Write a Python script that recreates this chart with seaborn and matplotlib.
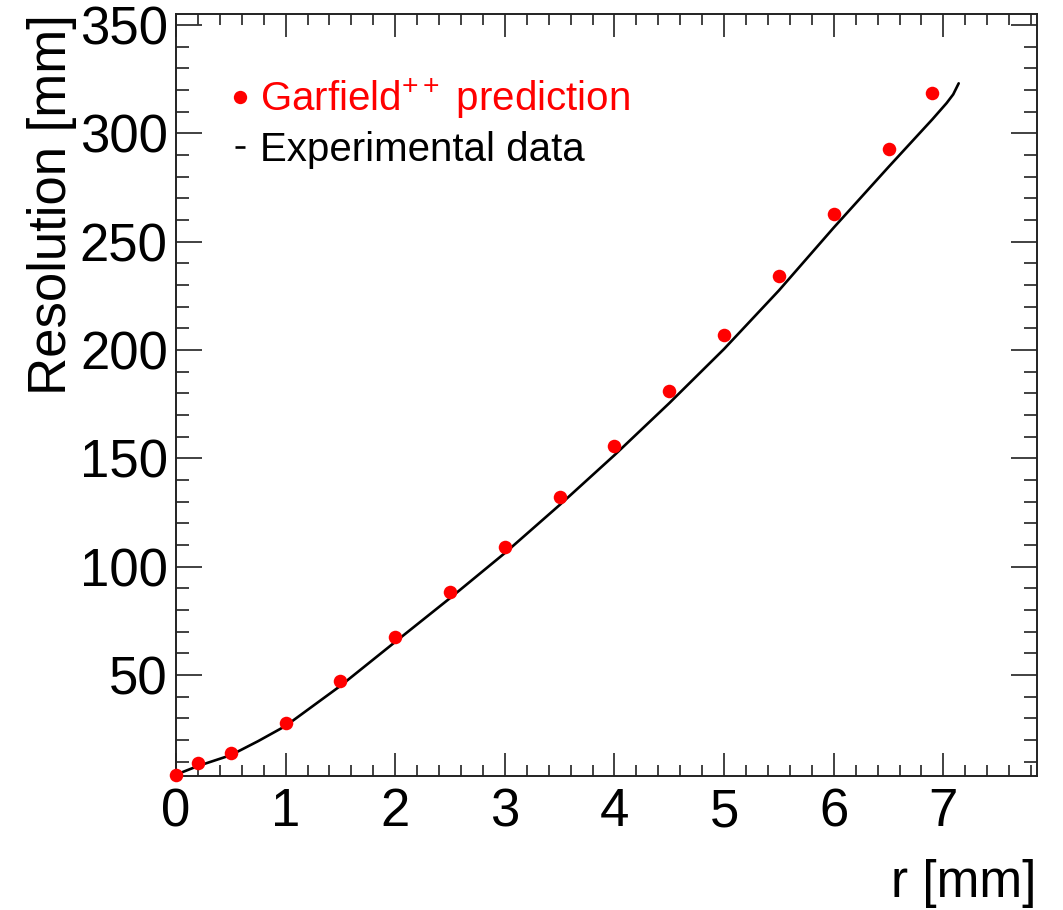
import matplotlib
matplotlib.use("Agg")
import matplotlib.pyplot as plt
from matplotlib.lines import Line2D
from matplotlib.ticker import AutoMinorLocator
import pandas as pd
import seaborn as sns

# Garfield++ simulated resolution at each radius
sim_r = [0, 0.2, 0.5, 1, 1.5, 2, 2.5, 3, 3.5, 4, 4.5, 5, 5.5, 6, 6.5, 6.9]
sim_res = [3.9, 9.6, 13.9, 27.8, 47.4, 67.7, 88.2, 109.2, 132.1, 155.8,
           181.1, 207.1, 234.2, 262.8, 292.9, 318.5]

# measured resolution curve
exp_r = [0, 0.2, 0.5, 0.75, 1, 1.5, 2, 2.5, 3, 3.5, 4, 4.5, 5, 5.5, 6,
         6.5, 6.9, 7.03, 7.09, 7.14]
exp_res = [4.0, 8.0, 13.0, 19.5, 26.5, 45.0, 65.3, 85.5, 106.3, 128.5,
           151.5, 175.5, 200.5, 227.5, 256.5, 284.5, 306.5, 314.0, 318.0,
           323.1]

x_ticks = [0, 1, 2, 3, 4, 5, 6, 7]
y_ticks = [50, 100, 150, 200, 250, 300, 350]

sns.set_style("ticks")
plt.rcParams["font.family"] = ["Liberation Sans", "DejaVu Sans"]
plt.rcParams["mathtext.fontset"] = "custom"
plt.rcParams["mathtext.rm"] = "Liberation Sans"
plt.rcParams["mathtext.it"] = "Liberation Sans:italic"
plt.rcParams["mathtext.bf"] = "Liberation Sans:bold"
plt.rcParams["text.color"] = "black"
plt.rcParams["axes.labelcolor"] = "black"

sim = pd.DataFrame({"r": sim_r, "res": sim_res})
exp = pd.DataFrame({"r": exp_r, "res": exp_res})

fig = plt.figure(figsize=(10.63, 9.10), dpi=100)
ax = fig.add_axes([0.1656, 0.1473, 0.8097, 0.8373])

sns.lineplot(data=exp, x="r", y="res", ax=ax, color="black", lw=1.9,
             sort=False, zorder=2)
sns.scatterplot(data=sim, x="r", y="res", ax=ax, color="#ff0000", s=95,
                linewidth=0, zorder=3, clip_on=False)

ax.set_xlim(0, 7.852)
ax.set_ylim(3.4, 355.1)
ax.set_xticks(x_ticks)
ax.set_yticks(y_ticks)
ax.xaxis.set_minor_locator(AutoMinorLocator(5))
ax.yaxis.set_minor_locator(AutoMinorLocator(5))

for side in ["left", "right", "top", "bottom"]:
    ax.spines[side].set_visible(True)
    ax.spines[side].set_linewidth(1.4)
    ax.spines[side].set_color("#222222")

ax.tick_params(axis="both", which="both", direction="in", top=True,
               right=True, color="#333333", width=1.3, labelsize=38,
               labelcolor="black")
ax.tick_params(axis="x", which="major", length=16.3, pad=8)
ax.tick_params(axis="x", which="minor", length=8)
ax.tick_params(axis="y", which="major", length=18.5, pad=6)
ax.tick_params(axis="y", which="minor", length=9.6)

ax.set_xlabel("r [mm]", fontsize=37, loc="right", labelpad=16)
ax.set_ylabel("Resolution [mm]", fontsize=38, loc="top", labelpad=2)

handles = [
    Line2D([], [], linestyle="none", marker="o", markersize=9.6,
           markerfacecolor="#ff0000", markeredgewidth=0),
    Line2D([], [], linestyle="none", marker="_", markersize=7.6,
           markeredgewidth=1.9, color="black"),
]
labels = [r"Garfield$^{\mathregular{++}}$ prediction", "Experimental data"]
leg = ax.legend(handles, labels, loc="upper left",
                bbox_to_anchor=(0.063, 0.918), frameon=False, fontsize=29,
                handlelength=0.5, handletextpad=0.24, borderpad=0,
                borderaxespad=0, labelspacing=0.25)
leg.get_texts()[0].set_color("#ff0000")
leg.get_texts()[1].set_color("black")

fig.savefig("out.png", dpi=100)
